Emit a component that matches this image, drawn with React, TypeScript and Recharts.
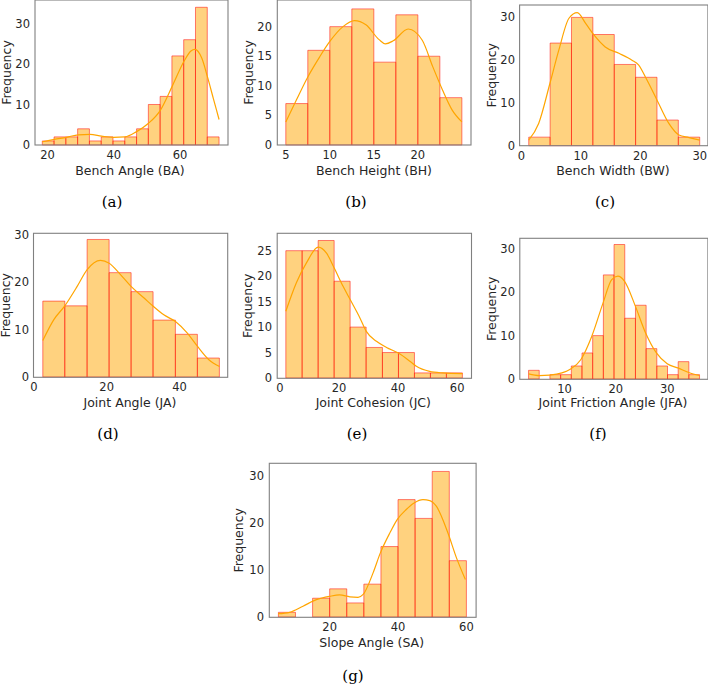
import { ComposedChart, Line, ReferenceArea, XAxis, YAxis } from 'recharts';

// (a) Bench Angle
const BA_EDGES = [18.4, 21.96, 25.52, 29.08, 32.64, 36.2, 39.76, 43.32, 46.88, 50.44, 54.0, 57.56, 61.12, 64.68, 68.24, 71.8];
const BA_COUNTS = [1, 2, 2, 4, 1, 2, 1, 2, 4, 10, 12, 22, 26, 34, 2];
const BA_KDE_X = [18.4, 22, 25.7, 29.3, 32.8, 36.3, 39.9, 43.4, 46.9, 50.4, 54, 57.7, 61.3, 63.3, 64.5, 66.6, 68.3, 70.1, 71.8];
const BA_KDE_Y = [0.8, 1.4, 1.9, 2.5, 2.6, 2.2, 1.9, 2.0, 3.3, 5.3, 8.5, 14.6, 20.8, 23.2, 23.6, 21.4, 16.8, 11.4, 6.3];

// (b) Bench Height
const BH_EDGES = [5, 7.5, 10, 12.5, 15, 17.5, 20, 22.5, 25];
const BH_COUNTS = [7, 16, 20, 23, 14, 22, 15, 8];
const BH_KDE_X = [5, 6.2, 7.5, 8.85, 10, 11.5, 12.8, 14.1, 15.6, 16.3, 17.2, 18.9, 20.5, 21.7, 22.8, 23.9, 25];
const BH_KDE_Y = [3.9, 7.6, 11.5, 14.9, 17.5, 20.0, 21.0, 20.3, 17.8, 17.1, 17.6, 19.6, 17.7, 13.2, 9.3, 5.9, 3.9];

// (c) Bench Width
const BW_EDGES = [1.23, 4.83, 8.42, 12.02, 15.62, 19.21, 22.81, 26.4, 30.0];
const BW_COUNTS = [2, 24, 30, 26, 19, 16, 6, 2];
const BW_KDE_X = [1.23, 2.9, 4.8, 6.3, 8.0, 9.4, 10.8, 12.2, 14.1, 16.4, 18.6, 19.7, 21.1, 22.8, 24.8, 26.5, 28.2, 30];
const BW_KDE_Y = [1.3, 5.2, 14.6, 22.4, 29.8, 31.1, 28.6, 25.9, 23.1, 21.6, 20.0, 18.9, 15.4, 10.7, 5.2, 2.5, 1.9, 1.3];

// (d) Joint Angle
const JA_EDGES = [2.47, 8.51, 14.64, 20.68, 26.72, 32.75, 38.88, 44.92, 50.96];
const JA_COUNTS = [16, 15, 29, 22, 18, 12, 9, 4];
const JA_KDE_X = [2.47, 5.5, 8.5, 11.9, 14.6, 18.3, 20.7, 23.8, 26.7, 30.2, 32.8, 35.7, 38.9, 42.1, 44.9, 48.0, 51];
const JA_KDE_Y = [7.7, 12.1, 15.0, 19.1, 22.6, 24.6, 24.0, 21.6, 19.1, 16.7, 14.9, 13.1, 11.7, 9.3, 6.5, 3.7, 2.2];

// (e) Joint Cohesion
const JC_EDGES = [2.03, 7.55, 12.97, 18.38, 23.79, 29.2, 34.72, 40.14, 45.55, 50.96, 56.37, 61.78];
const JC_COUNTS = [25, 25, 27, 19, 10, 6, 5, 5, 1, 1, 1];
const JC_KDE_X = [2.03, 5.6, 9.0, 13.0, 15.8, 18.4, 21.4, 23.8, 27.1, 29.2, 32.7, 36.1, 40.1, 44.0, 46.2, 50.7, 55.2, 61.8];
const JC_KDE_Y = [13.1, 18.7, 22.6, 25.7, 24.5, 21.6, 18.0, 15.4, 11.8, 9.2, 7.2, 6.0, 4.9, 3.3, 2.3, 1.3, 1.0, 0.85];

// (f) Joint Friction Angle
const JFA_EDGES = [3.0, 5.08, 7.16, 9.25, 11.33, 13.41, 15.49, 17.57, 19.65, 21.74, 23.82, 25.9, 27.98, 30.06, 32.14, 34.22, 36.3];
const JFA_COUNTS = [2, 0, 1, 1, 3, 6, 10, 24, 31, 14, 17, 7, 3, 1, 4, 1];
const JFA_KDE_X = [3.0, 5.1, 7.1, 9.5, 11.2, 13.2, 15.3, 17.5, 19.2, 20.4, 21.7, 23.8, 25.8, 27.9, 30.0, 32.2, 34.2, 36.3];
const JFA_KDE_Y = [1.2, 0.8, 0.9, 1.4, 2.3, 4.5, 9.8, 17.5, 22.9, 23.7, 22.5, 16.8, 10.6, 6.0, 3.5, 2.5, 1.5, 0.8];

// (g) Slope Angle
const SA_EDGES = [5, 10, 15, 20, 25, 30, 35, 40, 45, 50, 55, 60];
const SA_COUNTS = [1, 0, 4, 6, 3, 7, 15, 25, 21, 31, 12];
const SA_KDE_X = [4.9, 8.3, 12.2, 16.1, 20, 22.9, 25.9, 28.3, 29.8, 32.7, 34.8, 37.6, 39.8, 42.4, 44.7, 47.3, 49.3, 51.2, 54.6, 57.1, 59.7];
const SA_KDE_Y = [0.7, 1.0, 2.3, 3.7, 4.4, 4.7, 4.3, 4.2, 4.8, 9.4, 13.6, 17.9, 20.8, 22.9, 24.3, 25.0, 24.8, 23.6, 17.9, 12.6, 8.0];

const TEXT = '#262626';
const FRAME = '#808080';
const BAR_FILL = '#ffa500';
const BAR_EDGE = '#ff0000';
const KDE = '#ffa500';
const SANS = 'DejaVu Sans';

const AXIS_W = 34;
const AXIS_H = 24;
const PAD_T = 6;
const PAD_R = 2;

interface Frame {
  left: number;
  right: number;
  top: number;
  bottom: number;
}

interface PanelSpec {
  id: string;
  edges: number[];
  counts: number[];
  kdeX: number[];
  kdeY: number[];
  xDomain: [number, number];
  yMax: number;
  xTicks: number[];
  yTicks: number[];
  xLabel: string;
  caption: string;
  frame: Frame;
  xLabelAt: [number, number];
  yLabelAt: [number, number];
  captionAt: [number, number];
}

const PANELS: PanelSpec[] = [
  {
    id: 'a', edges: BA_EDGES, counts: BA_COUNTS, kdeX: BA_KDE_X, kdeY: BA_KDE_Y,
    xDomain: [16.2, 74.5], yMax: 35.8, xTicks: [20, 40, 60], yTicks: [0, 10, 20, 30],
    xLabel: 'Bench Angle (BA)', caption: '(a)',
    frame: { left: 35, right: 228, top: 0, bottom: 145 },
    xLabelAt: [130, 170], yLabelAt: [6, 72.5], captionAt: [112, 202],
  },
  {
    id: 'b', edges: BH_EDGES, counts: BH_COUNTS, kdeX: BH_KDE_X, kdeY: BH_KDE_Y,
    xDomain: [4, 26], yMax: 24.5, xTicks: [5, 10, 15, 20], yTicks: [0, 5, 10, 15, 20],
    xLabel: 'Bench Height (BH)', caption: '(b)',
    frame: { left: 277.3, right: 471, top: 0, bottom: 145 },
    xLabelAt: [374, 170], yLabelAt: [248, 72.5], captionAt: [356, 202],
  },
  {
    id: 'c', edges: BW_EDGES, counts: BW_COUNTS, kdeX: BW_KDE_X, kdeY: BW_KDE_Y,
    xDomain: [-0.24, 31.44], yMax: 32.9, xTicks: [0, 10, 20, 30], yTicks: [0, 10, 20, 30],
    xLabel: 'Bench Width (BW)', caption: '(c)',
    frame: { left: 519.6, right: 707.9, top: 5, bottom: 145.7 },
    xLabelAt: [613, 170], yLabelAt: [492, 75.3], captionAt: [605, 202],
  },
  {
    id: 'd', edges: JA_EDGES, counts: JA_COUNTS, kdeX: JA_KDE_X, kdeY: JA_KDE_Y,
    xDomain: [0.05, 53.38], yMax: 30.36, xTicks: [0, 20, 40], yTicks: [0, 10, 20, 30],
    xLabel: 'Joint Angle (JA)', caption: '(d)',
    frame: { left: 33.5, right: 227.7, top: 233.3, bottom: 377.3 },
    xLabelAt: [130, 402.5], yLabelAt: [6, 305.3], captionAt: [108, 433.5],
  },
  {
    id: 'e', edges: JC_EDGES, counts: JC_COUNTS, kdeX: JC_KDE_X, kdeY: JC_KDE_Y,
    xDomain: [-0.96, 64.79], yMax: 28.47, xTicks: [0, 20, 40, 60], yTicks: [0, 5, 10, 15, 20, 25],
    xLabel: 'Joint Cohesion (JC)', caption: '(e)',
    frame: { left: 277.2, right: 471.5, top: 233.3, bottom: 378.3 },
    xLabelAt: [373.3, 402.5], yLabelAt: [248, 305.8], captionAt: [357, 433.5],
  },
  {
    id: 'f', edges: JFA_EDGES, counts: JFA_COUNTS, kdeX: JFA_KDE_X, kdeY: JFA_KDE_Y,
    xDomain: [1.335, 37.965], yMax: 32.5, xTicks: [10, 20, 30], yTicks: [0, 10, 20, 30],
    xLabel: 'Joint Friction Angle (JFA)', caption: '(f)',
    frame: { left: 519.8, right: 707.9, top: 238.3, bottom: 379.3 },
    xLabelAt: [613, 402.5], yLabelAt: [492, 308.8], captionAt: [598, 433.5],
  },
  {
    id: 'g', edges: SA_EDGES, counts: SA_COUNTS, kdeX: SA_KDE_X, kdeY: SA_KDE_Y,
    xDomain: [2.25, 62.75], yMax: 32.8, xTicks: [20, 40, 60], yTicks: [0, 10, 20, 30],
    xLabel: 'Slope Angle (SA)', caption: '(g)',
    frame: { left: 269.3, right: 476.1, top: 463.3, bottom: 617.3 },
    xLabelAt: [371.7, 642.7], yLabelAt: [238.5, 540.3], captionAt: [353, 676],
  },
];

const tickStyle = { fontSize: 11.5, fill: TEXT, fontFamily: SANS };

function Histogram({ spec }: { spec: PanelSpec }) {
  const { frame } = spec;
  const plotW = frame.right - frame.left;
  const plotH = frame.bottom - frame.top;
  const kde = spec.kdeX.map((x, i) => ({ x, y: spec.kdeY[i] }));
  return (
    <div style={{ position: 'absolute', left: frame.left - AXIS_W, top: frame.top - PAD_T }}>
      <ComposedChart
        width={AXIS_W + plotW + PAD_R}
        height={PAD_T + plotH + AXIS_H}
        data={kde}
        margin={{ top: PAD_T, right: PAD_R, bottom: 0, left: 0 }}
      >
        <XAxis
          dataKey="x"
          type="number"
          domain={spec.xDomain}
          ticks={spec.xTicks}
          interval={0}
          allowDataOverflow
          height={AXIS_H}
          axisLine={false}
          tickLine={false}
          tickSize={0}
          tickMargin={6}
          tick={tickStyle}
        />
        <YAxis
          type="number"
          domain={[0, spec.yMax]}
          ticks={spec.yTicks}
          interval={0}
          allowDataOverflow
          width={AXIS_W}
          axisLine={false}
          tickLine={false}
          tickSize={0}
          tickMargin={5}
          tick={tickStyle}
        />
        {spec.counts.map((count, i) =>
          count > 0 ? (
            <ReferenceArea
              key={`${spec.id}-${i}`}
              x1={spec.edges[i]}
              x2={spec.edges[i + 1]}
              y1={0}
              y2={count}
              ifOverflow="visible"
              fill={BAR_FILL}
              fillOpacity={0.5}
              stroke={BAR_EDGE}
              strokeOpacity={0.5}
              strokeWidth={1}
            />
          ) : null,
        )}
        <Line
          dataKey="y"
          type="monotone"
          stroke={KDE}
          strokeWidth={1.2}
          dot={false}
          activeDot={false}
          isAnimationActive={false}
        />
      </ComposedChart>
    </div>
  );
}

export default function App() {
  return (
    <div
      style={{
        position: 'absolute',
        left: 0,
        top: 0,
        width: 708,
        height: 686,
        background: '#ffffff',
        overflow: 'hidden',
      }}
    >
      {PANELS.map((p) => (
        <Histogram key={p.id} spec={p} />
      ))}
      <svg
        width={708}
        height={686}
        style={{ position: 'absolute', left: 0, top: 0, pointerEvents: 'none' }}
      >
        {PANELS.map((p) => (
          <g key={p.id}>
            <rect
              x={p.frame.left}
              y={p.frame.top}
              width={p.frame.right - p.frame.left}
              height={p.frame.bottom - p.frame.top}
              fill="none"
              stroke={FRAME}
              strokeWidth={1.1}
            />
            <text
              x={p.xLabelAt[0]}
              y={p.xLabelAt[1]}
              textAnchor="middle"
              dominantBaseline="central"
              fontFamily={SANS}
              fontSize={12.5}
              fill={TEXT}
            >
              {p.xLabel}
            </text>
            <text
              x={p.yLabelAt[0]}
              y={p.yLabelAt[1]}
              transform={`rotate(-90 ${p.yLabelAt[0]} ${p.yLabelAt[1]})`}
              textAnchor="middle"
              dominantBaseline="central"
              fontFamily={SANS}
              fontSize={12.5}
              fill={TEXT}
            >
              Frequency
            </text>
            <text
              x={p.captionAt[0]}
              y={p.captionAt[1]}
              textAnchor="middle"
              dominantBaseline="central"
              fontFamily="DejaVu Serif"
              fontSize={15}
              fill="#000000"
            >
              {p.caption}
            </text>
          </g>
        ))}
      </svg>
    </div>
  );
}
